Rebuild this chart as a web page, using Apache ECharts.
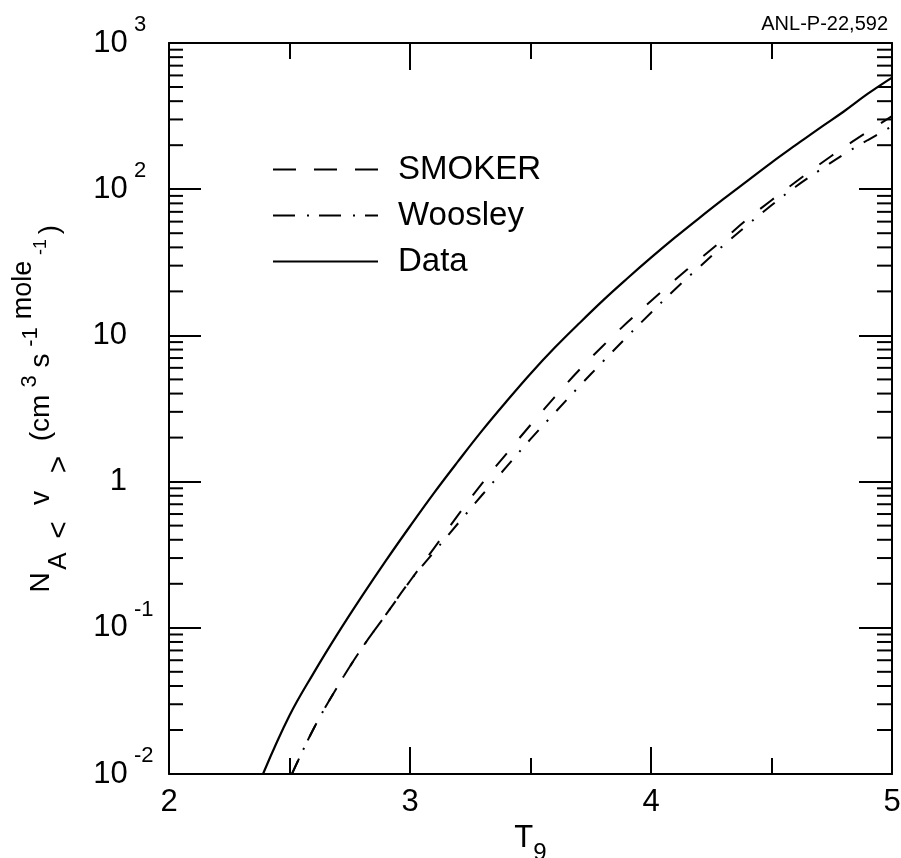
<!DOCTYPE html>
<html>
<head>
<meta charset="utf-8">
<script src="https://cdn.jsdelivr.net/npm/echarts@6/dist/echarts.min.js"></script>
<style>html,body{margin:0;padding:0;background:#fff}#c{width:901px;height:858px}</style>
</head>
<body>
<div id="c"></div>
<script>
// ---- data ----
const dataT   = [2.39, 2.5, 2.6, 2.7, 2.8, 2.9, 3.0, 3.1, 3.2, 3.3, 3.4, 3.5, 3.6, 3.7, 3.8, 3.9, 4.0, 4.1, 4.2, 4.3, 4.4, 4.5, 4.6, 4.7, 4.8, 4.9, 5.0];
const dataV   = [0.0100, 0.0251, 0.0490, 0.0912, 0.164, 0.288, 0.495, 0.838, 1.38, 2.24, 3.53, 5.47, 8.22, 12.0, 17.3, 24.4, 34.0, 46.8, 63.5, 85.5, 114, 152, 200, 262, 340, 450, 580];

const smokerT = [2.51, 2.6, 2.7, 2.8, 2.9, 3.0, 3.1, 3.2, 3.3, 3.4, 3.5, 3.6, 3.7, 3.8, 3.9, 4.0, 4.1, 4.2, 4.3, 4.4, 4.5, 4.6, 4.7, 4.8, 4.9, 5.0];
const smokerV = [0.0100, 0.0204, 0.0398, 0.0724, 0.123, 0.209, 0.351, 0.592, 0.977, 1.55, 2.44, 3.78, 5.75, 8.47, 12.2, 17.2, 24.0, 33.1, 45.2, 62.4, 84.1, 112, 148, 193, 248, 316];

const woosleyT = [2.51, 2.6, 2.7, 2.8, 2.9, 3.0, 3.1, 3.2, 3.3, 3.4, 3.5, 3.6, 3.7, 3.8, 3.9, 4.0, 4.1, 4.2, 4.3, 4.4, 4.5, 4.6, 4.7, 4.8, 4.9, 5.0];
const woosleyV = [0.0100, 0.0204, 0.0398, 0.0724, 0.123, 0.209, 0.331, 0.519, 0.813, 1.26, 1.95, 2.95, 4.44, 6.61, 9.77, 14.3, 20.7, 29.3, 41.2, 56.9, 77.6, 104, 135, 173, 217, 269];

const seriesNames = ['SMOKER', 'Woosley', 'Data'];

const xTickValues = [2, 3, 4, 5];
const yTickValues = [0.01, 0.1, 1, 10, 100, 1000];
const yTickLabels = ['{b|10}{s|-2}', '{b|10}{s|-1}', '{b|1}', '{b|10}', '{b|10}{s|2}', '{b|10}{s|3}'];
const yMinorTicks = [0.02,0.03,0.04,0.05,0.06,0.07,0.08,0.09,
                     0.2,0.3,0.4,0.5,0.6,0.7,0.8,0.9,
                     2,3,4,5,6,7,8,9,
                     20,30,40,50,60,70,80,90,
                     200,300,400,500,600,700,800,900];

const xName = '{t|T}{sub|9}';
const yName = '{n1|N}{sa|A}{lt|<}{v|v}{gt|>}{cm|(cm}{p3|3}{s|s}{m1|-1}{mo|mole}{m2|-1}{rp|)}';
const stamp = 'ANL-P-22,592';

// ---- chart ----
const FONT = '"Liberation Sans", Arial, Helvetica, sans-serif';
const pair = (xs, ys) => xs.map((x, i) => [x, ys[i]]);
const X_MIN = xTickValues[0], X_MAX = xTickValues[xTickValues.length - 1];

const chart = echarts.init(document.getElementById('c'), null, {renderer: 'canvas'});

const axisLine = {show: true, lineStyle: {color: '#000', width: 2}};
const tok = (o) => Object.assign({fontFamily: FONT, color: '#000'}, o);

const option = {
  backgroundColor: '#fff',
  animation: false,
  textStyle: {fontFamily: FONT, color: '#000'},
  title: {
    text: stamp, right: 8, top: 9,
    textStyle: {fontFamily: FONT, fontSize: 20, fontWeight: 'normal', color: '#000'}
  },
  grid: {left: 169, right: 9, top: 43, bottom: 84, containLabel: false, outerBoundsMode: 'none'},
  legend: {
    orient: 'vertical', left: 272, top: 153, padding: 0,
    itemWidth: 105, itemHeight: 14, itemGap: 13,
    itemStyle: {opacity: 0},
    data: [
      {name: seriesNames[0], lineStyle: {type: [23, 18], width: 2}, itemStyle: {opacity: 0}},
      {name: seriesNames[1], lineStyle: {type: [22, 12, 2, 10], width: 2}, itemStyle: {opacity: 0}},
      {name: seriesNames[2], lineStyle: {type: 'solid', width: 2}, itemStyle: {opacity: 0}}
    ],
    textStyle: {fontFamily: FONT, fontSize: 33, color: '#000', lineHeight: 33, padding: [0, 0, 0, 15]}
  },
  xAxis: [
    {
      type: 'value', min: X_MIN, max: X_MAX, interval: 1, position: 'bottom',
      axisLine: axisLine,
      axisTick: {show: true, inside: true, length: 27, lineStyle: {color: '#000', width: 2}},
      minorTick: {show: true, splitNumber: 2, length: 16, lineStyle: {color: '#000', width: 2}},
      splitLine: {show: false},
      axisLabel: {fontFamily: FONT, fontSize: 31, color: '#000', margin: 13},
      name: xName, nameLocation: 'middle', nameGap: 44,
      nameTextStyle: {
        rich: {
          t: tok({fontSize: 31, lineHeight: 40}),
          sub: tok({fontSize: 24, height: 10, lineHeight: 10, verticalAlign: 'bottom'})
        }
      }
    },
    {
      type: 'value', min: X_MIN, max: X_MAX, interval: 1, position: 'top',
      axisLine: axisLine,
      axisTick: {show: true, inside: true, length: 27, lineStyle: {color: '#000', width: 2}},
      minorTick: {show: true, splitNumber: 2, length: 16, lineStyle: {color: '#000', width: 2}},
      splitLine: {show: false},
      axisLabel: {show: false}
    }
  ],
  yAxis: [
    {
      type: 'log', logBase: 10, min: yTickValues[0], max: yTickValues[yTickValues.length - 1],
      splitNumber: 5, position: 'left',
      axisLine: axisLine,
      axisTick: {show: true, inside: true, length: 32, lineStyle: {color: '#000', width: 2}},
      splitLine: {show: false},
      axisLabel: {
        align: 'left', margin: 75,
        formatter: function (v) {
          const e = Math.round(Math.log10(v));
          const i = yTickValues.findIndex(t => Math.round(Math.log10(t)) === e);
          return i >= 0 ? yTickLabels[i] : '';
        },
        rich: {
          b: tok({fontSize: 31, width: 33, align: 'right', lineHeight: 40}),
          s: tok({fontSize: 22, height: 4, lineHeight: 4, verticalAlign: 'top', padding: [0, 0, 0, 7]})
        }
      },
      name: yName, nameLocation: 'middle', nameRotate: 90, nameGap: 98,
      nameTextStyle: {
        rich: {
          n1: tok({fontSize: 28, lineHeight: 60, width: 23}),
          sa: tok({fontSize: 26, height: 24, lineHeight: 24, verticalAlign: 'bottom', width: 20}),
          lt: tok({fontSize: 30, height: 22, lineHeight: 22, verticalAlign: 'bottom', width: 42}),
          v:  tok({fontSize: 28, lineHeight: 60, width: 22}),
          gt: tok({fontSize: 30, height: 22, lineHeight: 22, verticalAlign: 'bottom', width: 45}),
          cm: tok({fontSize: 28, lineHeight: 60, width: 48}),
          p3: tok({fontSize: 22, height: 37, lineHeight: 37, verticalAlign: 'top', width: 25}),
          s:  tok({fontSize: 28, lineHeight: 60, width: 17}),
          m1: tok({fontSize: 22, height: 40, lineHeight: 40, verticalAlign: 'top', width: 30}),
          mo: tok({fontSize: 27, height: 26, lineHeight: 26, verticalAlign: 'top', width: 64}),
          m2: tok({fontSize: 18, lineHeight: 60, width: 22}),
          rp: tok({fontSize: 28, height: 42, lineHeight: 42, verticalAlign: 'bottom', width: 13})
        }
      }
    },
    {
      type: 'log', logBase: 10, min: yTickValues[0], max: yTickValues[yTickValues.length - 1],
      splitNumber: 5, position: 'right',
      axisLine: axisLine,
      axisTick: {show: true, inside: true, length: 33, lineStyle: {color: '#000', width: 2}},
      splitLine: {show: false},
      axisLabel: {show: false}
    }
  ],
  series: [
    {
      name: seriesNames[0], type: 'line', data: pair(smokerT, smokerV),
      showSymbol: false, symbol: 'none', smooth: 0.4, color: '#000',
      lineStyle: {color: '#000', width: 2, type: [17, 20]}, z: 3
    },
    {
      name: seriesNames[1], type: 'line', data: pair(woosleyT, woosleyV),
      showSymbol: false, symbol: 'none', smooth: 0.4, color: '#000',
      lineStyle: {color: '#000', width: 2, type: [15, 12, 2, 12]}, z: 3
    },
    {
      name: seriesNames[2], type: 'line', data: pair(dataT, dataV),
      showSymbol: false, symbol: 'none', smooth: 0.4, color: '#000',
      lineStyle: {color: '#000', width: 2.2, type: 'solid'}, z: 3
    },
    {
      name: 'minorTicksY', type: 'custom', silent: true, clip: false, z: 4,
      xAxisIndex: 0, yAxisIndex: 0,
      data: yMinorTicks.map(v => [X_MIN, v]),
      encode: {x: 0, y: 1},
      renderItem: function (params, api) {
        const v = api.value(1);
        const l = api.coord([X_MIN, v]);
        const r = api.coord([X_MAX, v]);
        const st = {stroke: '#000', lineWidth: 2};
        return {
          type: 'group',
          children: [
            {type: 'line', shape: {x1: l[0], y1: l[1], x2: l[0] + 14, y2: l[1]}, style: st},
            {type: 'line', shape: {x1: r[0] - 15, y1: r[1], x2: r[0], y2: r[1]}, style: st}
          ]
        };
      }
    }
  ]
};
chart.setOption(option);
</script>
</body>
</html>
